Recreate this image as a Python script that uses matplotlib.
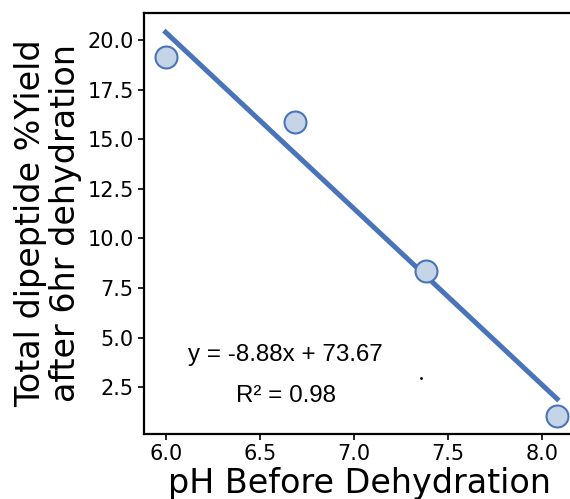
import numpy as np
import matplotlib.pyplot as plt

# pH before dehydration vs total dipeptide yield
ph = np.array([6.0, 6.69, 7.385, 8.08])
yield_pct = np.array([19.14, 15.87, 8.36, 1.06])

# linear fit reported on the chart
slope, intercept = -8.88, 73.67
r_squared = 0.98

x_ticks = [6.0, 6.5, 7.0, 7.5, 8.0]
y_ticks = [2.5, 5.0, 7.5, 10.0, 12.5, 15.0, 17.5, 20.0]

blue = "#4a74b9"
fill = "#c6d4e7"

fig = plt.figure(figsize=(5.70, 4.99), dpi=100)
ax = fig.add_axes([144 / 570, 1 - 434 / 499, 430 / 570, 421 / 499])

fit_x = np.array([ph.min(), ph.max()])
ax.plot(fit_x, slope * fit_x + intercept, color=blue, lw=3.6, zorder=2)
ax.scatter(ph, yield_pct, s=250, facecolor=fill, edgecolor=blue, lw=1.5, zorder=3)

ax.text(6.635, 4.13, f"y = {slope:.2f}x + {intercept:.2f}", ha="center", va="center",
        fontsize=17.4, family="Liberation Sans")
ax.text(6.64, 2.07, f"R² = {r_squared:.2f}", ha="center", va="center",
        fontsize=17.4, family="Liberation Sans")
ax.plot([7.358], [2.97], marker=".", markersize=2, color="black")

ax.set_xlim(5.885, 8.17)
ax.set_ylim(0.15, 21.36)
ax.set_xticks(x_ticks)
ax.set_yticks(y_ticks)
ax.tick_params(labelsize=15, width=1.2, length=4)

ax.set_xlabel("pH Before Dehydration", fontsize=24, labelpad=2)
ax.set_ylabel("Total dipeptide %Yield\nafter 6hr dehydration", fontsize=24, labelpad=4,
              linespacing=1.05)

for sp in ax.spines.values():
    sp.set_linewidth(1.6)

fig.savefig("out.png", dpi=100)
